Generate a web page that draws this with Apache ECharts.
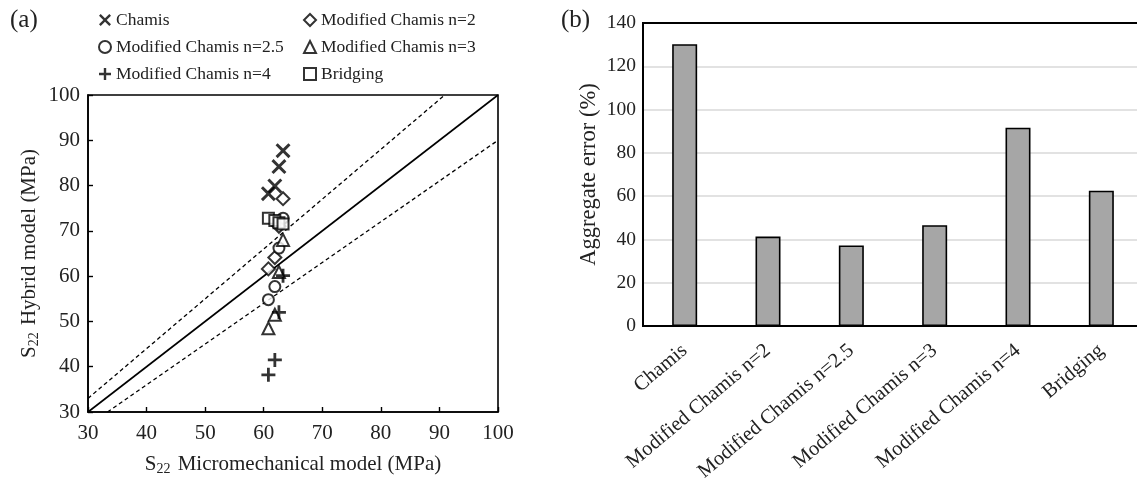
<!DOCTYPE html>
<html>
<head>
<meta charset="utf-8">
<script src="https://cdn.jsdelivr.net/npm/echarts@6/dist/echarts.min.js"></script>
<style>
  html, body { margin: 0; padding: 0; background: #fff; }
  #chart { width: 1137px; height: 480px; }
</style>
</head>
<body>
<div id="chart"></div>
<script>
// Panel (a): S22 from the micromechanical model (x) vs the hybrid model (y)
const chamis   = [[60.8, 78.2], [61.9, 79.9], [62.6, 84.2], [63.3, 87.7]];
const modN2    = [[60.8, 61.6], [61.9, 64.1], [62.6, 71.0], [63.3, 77.1]];
const modN25   = [[60.8, 54.8], [61.9, 57.7], [62.6, 66.2], [63.3, 72.8]];
const modN3    = [[60.8, 48.5], [61.9, 51.5], [62.6, 60.9], [63.3, 68.0]];
const modN4    = [[60.8, 38.2], [61.9, 41.5], [62.6, 52.0], [63.3, 60.1]];
const bridging = [[60.8, 72.8], [61.9, 72.3], [62.6, 71.8], [63.3, 71.5]];

// Reference lines: perfect agreement and the ±10 % band
const lineEqual = [[30, 30], [100, 100]];
const lineUpper = [[30, 33], [90.91, 100]];
const lineLower = [[33.33, 30], [100, 90]];

const scatterTicks = [30, 40, 50, 60, 70, 80, 90, 100];

// Panel (b): aggregate error of each model
const models = ['Chamis', 'Modified Chamis n=2', 'Modified Chamis n=2.5',
                'Modified Chamis n=3', 'Modified Chamis n=4', 'Bridging'];
const aggregateError = [130.2, 41.3, 37.2, 46.6, 91.6, 62.5];

const FONT = '"Liberation Serif", "Times New Roman", serif';
const PATH_X = 'path://M0,1.4 L1.4,0 L5,3.6 L8.6,0 L10,1.4 L6.4,5 L10,8.6 L8.6,10 L5,6.4 L1.4,10 L0,8.6 L3.6,5 Z';
const PATH_PLUS = 'path://M4,0 H6 V4 H10 V6 H6 V10 H4 V6 H0 V4 H4 Z';

const solidMark = { color: '#000', borderWidth: 0 };
const hollowMark = { color: '#fff', borderColor: '#000', borderWidth: 2 };

function scatter(name, data, symbol, size, style) {
  return {
    type: 'scatter', name, data, symbol, symbolSize: size,
    xAxisIndex: 0, yAxisIndex: 0, itemStyle: style, z: 5
  };
}
function refLine(data, type) {
  return {
    type: 'line', data, xAxisIndex: 0, yAxisIndex: 0, symbol: 'none',
    silent: true, z: 3,
    lineStyle: { color: '#000', width: type === 'solid' ? 1.6 : 1.3, type: type === 'solid' ? 'solid' : [4, 3] }
  };
}

const subRich = {
  sub: { fontFamily: FONT, fontSize: 14, color: '#222', padding: [10, 2, 0, 0] },
  t: { fontFamily: FONT, fontSize: 21, color: '#222' }
};

const legendBase = {
  orient: 'vertical', itemWidth: 12, itemHeight: 12, itemGap: 9,
  textStyle: { fontFamily: FONT, fontSize: 17.5, color: '#222' },
  selectedMode: false
};

const chart = echarts.init(document.getElementById('chart'), null, { renderer: 'canvas' });
chart.setOption({
  animation: false,
  backgroundColor: '#fff',
  title: [
    { text: '(a)', left: 5, top: 3, textStyle: { fontFamily: FONT, fontSize: 25, fontWeight: 'normal', color: '#222' } },
    { text: '(b)', left: 556, top: 3, textStyle: { fontFamily: FONT, fontSize: 25, fontWeight: 'normal', color: '#222' } }
  ],
  legend: [
    Object.assign({}, legendBase, { left: 93, top: 6, data: ['Chamis', 'Modified Chamis n=2.5', 'Modified Chamis n=4'] }),
    Object.assign({}, legendBase, { left: 298, top: 6, data: ['Modified Chamis n=2', 'Modified Chamis n=3', 'Bridging'] })
  ],
  grid: [
    { left: 88, top: 95, width: 410, height: 317, show: true, borderColor: '#000', borderWidth: 1.6,
      backgroundColor: 'transparent', outerBoundsMode: 'none' },
    { left: 643, top: 23, right: -6, bottom: 154, show: true, borderColor: '#000', borderWidth: 2,
      backgroundColor: 'transparent', outerBoundsMode: 'none' }
  ],
  xAxis: [
    {
      gridIndex: 0, type: 'value', min: 30, max: 100, interval: 10,
      name: '{t|S}{sub|22}{t| Micromechanical model (MPa)}',
      nameLocation: 'middle', nameGap: 40,
      nameTextStyle: { rich: subRich },
      axisLine: { show: true, lineStyle: { color: '#000', width: 1.6 } },
      axisTick: { show: true, inside: true, length: 5, lineStyle: { color: '#000', width: 1.4 } },
      axisLabel: { fontFamily: FONT, fontSize: 21, color: '#222', margin: 11,
                   formatter: v => scatterTicks.includes(v) ? String(v) : '' },
      splitLine: { show: false }
    },
    {
      gridIndex: 1, type: 'category', data: models,
      axisLine: { show: true, lineStyle: { color: '#000', width: 2 } },
      axisTick: { show: false },
      axisLabel: { fontFamily: FONT, fontSize: 20.5, color: '#222', rotate: 40, margin: 22, interval: 0 },
      splitLine: { show: false }
    },
    {
      // top frame line of panel (b)
      gridIndex: 1, type: 'category', data: models, position: 'top',
      axisLine: { show: true, lineStyle: { color: '#000', width: 2 } },
      axisTick: { show: false }, axisLabel: { show: false }, splitLine: { show: false }
    }
  ],
  yAxis: [
    {
      gridIndex: 0, type: 'value', min: 30, max: 100, interval: 10,
      name: '{t|S}{sub|22}{t| Hybrid model (MPa)}',
      nameLocation: 'middle', nameGap: 47, nameRotate: 90,
      nameTextStyle: { rich: subRich },
      axisLine: { show: true, lineStyle: { color: '#000', width: 1.6 } },
      axisTick: { show: true, inside: true, length: 5, lineStyle: { color: '#000', width: 1.4 } },
      axisLabel: { fontFamily: FONT, fontSize: 21, color: '#222', margin: 8 },
      splitLine: { show: false }
    },
    {
      gridIndex: 1, type: 'value', min: 0, max: 140, interval: 20,
      name: 'Aggregate error (%)',
      nameLocation: 'middle', nameGap: 42, nameRotate: 90,
      nameTextStyle: { fontFamily: FONT, fontSize: 22.5, color: '#222' },
      axisLine: { show: true, lineStyle: { color: '#000', width: 2 } },
      axisTick: { show: false },
      axisLabel: { fontFamily: FONT, fontSize: 19.5, color: '#222', margin: 7 },
      splitLine: { show: true, showMaxLine: false, showMinLine: false, lineStyle: { color: '#d9d9d9', width: 1.5 } }
    }
  ],
  series: [
    refLine(lineEqual, 'solid'),
    refLine(lineUpper, 'dashed'),
    refLine(lineLower, 'dashed'),
    scatter('Chamis', chamis, PATH_X, 15, solidMark),
    scatter('Modified Chamis n=2', modN2, 'diamond', 13, hollowMark),
    scatter('Modified Chamis n=2.5', modN25, 'circle', 11, hollowMark),
    scatter('Modified Chamis n=3', modN3, 'triangle', 12, hollowMark),
    scatter('Modified Chamis n=4', modN4, PATH_PLUS, 14, solidMark),
    scatter('Bridging', bridging, 'rect', 11, hollowMark),
    {
      type: 'bar', xAxisIndex: 1, yAxisIndex: 1, data: aggregateError,
      barWidth: 25,
      itemStyle: { color: '#a6a6a6', borderColor: '#000', borderWidth: 1.6 }
    }
  ]
});
</script>
</body>
</html>
